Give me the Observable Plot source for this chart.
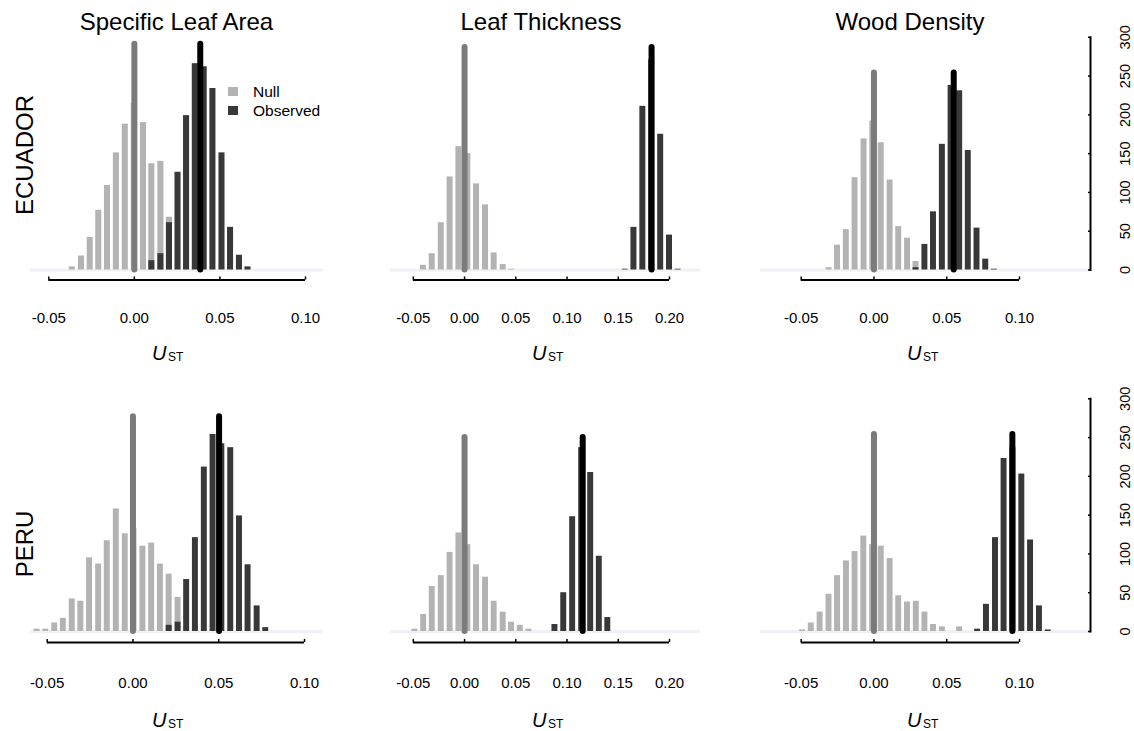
<!DOCTYPE html>
<html>
<head>
<meta charset="utf-8">
<script src="https://cdn.jsdelivr.net/npm/d3@7"></script>
<script src="https://cdn.jsdelivr.net/npm/@observablehq/plot@0.6"></script>
<style>
  html, body { margin: 0; padding: 0; background: #fff; }
  #chart { position: relative; width: 1134px; height: 731px; overflow: hidden; }
  #chart svg { position: absolute; left: 0; top: 0; }
</style>
</head>
<body>
<div id="chart"></div>
<script>
// ---------------- DATA ----------------
const traits = ["Specific Leaf Area", "Leaf Thickness", "Wood Density"];
const regions = ["ECUADOR", "PERU"];
const legendLabels = ["Null", "Observed"];
const xTicksShort = [-0.05, 0.00, 0.05, 0.10];
const xTicksLong = [-0.05, 0.00, 0.05, 0.10, 0.15, 0.20];
const yTicks = [0, 50, 100, 150, 200, 250, 300];

// Ecuador – Specific Leaf Area
const ecSlaNullX = [-0.0363,-0.0309,-0.0258,-0.0208,-0.0157,-0.0105,-0.0053,0.0000,0.0053,0.0102,0.0155,0.0205];
const ecSlaNullN = [4,18,42,77,109,151,188,215,190,137,140,68];
const ecSlaObsX  = [0.0102,0.0155,0.0205,0.0255,0.0305,0.0356,0.0408,0.0459,0.0512,0.0562,0.0614,0.0664];
const ecSlaObsN  = [12,21,61,126,199,266,262,234,151,55,19,4];
const ecSlaMeans = [0.0000, 0.0385];   // null, observed
const ecSlaLineTop = 291;

// Ecuador – Leaf Thickness
const ecLtNullX = [-0.0401,-0.0315,-0.0227,-0.0141,-0.0055,0.0032,0.0117,0.0205,0.0289,0.0377,0.0459];
const ecLtNullN = [6,21,61,120,159,150,111,84,22,7,1];
const ecLtObsX  = [0.1568,0.1653,0.1740,0.1826,0.1914,0.2000,0.2084];
const ecLtObsN  = [1,55,211,271,175,45,1];
const ecLtMeans = [0.0000, 0.1825];
const ecLtLineTop = 287;

// Ecuador – Wood Density
const ecWdNullX = [-0.0309,-0.0250,-0.0190,-0.0130,-0.0068,-0.0008,0.0050,0.0111,0.0170,0.0231,0.0289];
const ecWdNullN = [3,32,52,119,169,192,164,116,56,41,11];
const ecWdObsX  = [0.0289,0.0350,0.0409,0.0470,0.0530,0.0589,0.0648,0.0708,0.0768,0.0827];
const ecWdObsN  = [3,33,75,162,238,231,154,54,14,1];
const ecWdMeans = [0.0000, 0.0548];
const ecWdLineTop = 254;

// Peru – Specific Leaf Area
const peSlaNullX = [-0.0559,-0.0508,-0.0456,-0.0406,-0.0354,-0.0304,-0.0253,-0.0200,-0.0150,-0.0097,-0.0045,0.0006,0.0058,0.0109,0.0160,0.0211,0.0263];
const peSlaNullN = [3,3,11,17,42,39,95,87,117,158,126,133,110,114,87,74,44];
const peSlaObsX  = [0.0211,0.0263,0.0313,0.0364,0.0416,0.0467,0.0518,0.0570,0.0621,0.0671,0.0724,0.0774];
const peSlaObsN  = [8,12,67,121,212,254,242,237,149,86,33,5];
const peSlaMeans = [0.0000, 0.0502];
const peSlaLineTop = 277;

// Peru – Leaf Thickness
const peLtNullX = [-0.0484,-0.0399,-0.0315,-0.0227,-0.0141,-0.0055,0.0032,0.0117,0.0205,0.0289,0.0377,0.0459,0.0544,0.0628];
const peLtNullN = [3,22,58,72,102,127,112,86,70,39,25,12,8,3];
const peLtObsX  = [0.0882,0.0968,0.1055,0.1143,0.1231,0.1315,0.1398];
const peLtObsN  = [9,50,148,237,205,97,18];
const peLtMeans = [0.0000, 0.1153];
const peLtLineTop = 250;

// Peru – Wood Density
const peWdNullX = [-0.0491,-0.0431,-0.0370,-0.0309,-0.0250,-0.0189,-0.0130,-0.0070,-0.0009,0.0050,0.0111,0.0170,0.0230,0.0291,0.0350,0.0409,0.0470,0.0589];
const peWdNullN = [2,11,25,48,72,91,103,123,112,110,94,46,38,39,25,9,6,6];
const peWdObsX  = [0.0712,0.0773,0.0835,0.0894,0.0955,0.1016,0.1076,0.1137,0.1197];
const peWdObsN  = [3,35,121,223,237,203,118,33,2];
const peWdMeans = [0.0000, 0.0951];
const peWdLineTop = 254;

// ---------------- STYLE / LAYOUT ----------------
const W = 1134, H = 731;
const FONT = "'Liberation Sans', Arial, Helvetica, sans-serif";
const nullColor = "#b3b3b3";
const obsColor = "#383838";
const nullLineColor = "#7b7b7b";
const obsLineColor = "#000000";

const rows = [
  { yRange: [269.5, 36.8], axisDy: 10, labelDy: 48.5, ustBaseline: 360 },
  { yRange: [631, 398.3], axisDy: 11, labelDy: 52, ustBaseline: 727 }
];
const cols = [
  { xDomain: [-0.05, 0.10], ticks: xTicksShort, band: [30, 323], titleX: 176.5, ustX: 152 },
  { xDomain: [-0.05, 0.20], ticks: xTicksLong, band: [390, 700], titleX: 541, ustX: 532 },
  { xDomain: [-0.05, 0.10], ticks: xTicksShort, band: [760, 1090], titleX: 910, ustX: 907 }
];
const xRanges = [
  [[48.3, 305], [412.8, 669], [800.7, 1019]],
  [[46.7, 304], [412.8, 669], [800.7, 1019]]
];

const panels = [
  [ {nx: ecSlaNullX, nn: ecSlaNullN, ox: ecSlaObsX, on: ecSlaObsN, means: ecSlaMeans, top: ecSlaLineTop},
    {nx: ecLtNullX,  nn: ecLtNullN,  ox: ecLtObsX,  on: ecLtObsN,  means: ecLtMeans,  top: ecLtLineTop},
    {nx: ecWdNullX,  nn: ecWdNullN,  ox: ecWdObsX,  on: ecWdObsN,  means: ecWdMeans,  top: ecWdLineTop} ],
  [ {nx: peSlaNullX, nn: peSlaNullN, ox: peSlaObsX, on: peSlaObsN, means: peSlaMeans, top: peSlaLineTop},
    {nx: peLtNullX,  nn: peLtNullN,  ox: peLtObsX,  on: peLtObsN,  means: peLtMeans,  top: peLtLineTop},
    {nx: peWdNullX,  nn: peWdNullN,  ox: peWdObsX,  on: peWdObsN,  means: peWdMeans,  top: peWdLineTop} ]
];

const chart = document.getElementById("chart");

function makePanel(r, c) {
  const p = panels[r][c], row = rows[r], col = cols[c];
  const nullData = p.nx.map((x, i) => ({x, n: p.nn[i]}));
  const obsData = p.ox.map((x, i) => ({x, n: p.on[i]}));
  const bin = d3.median(d3.pairs(p.nx, (a, b) => b - a));
  const hw = bin * 0.34;
  const rightAxis = c === 2;
  const marks = [
    Plot.ruleY([0], {stroke: "#f1f1f5", strokeWidth: 3}),
    Plot.rect(nullData, {x1: d => d.x - hw, x2: d => d.x + hw, y1: () => 0, y2: "n", fill: nullColor}),
    Plot.rect(obsData, {x1: d => d.x - hw, x2: d => d.x + hw, y1: () => 0, y2: "n", fill: obsColor}),
    Plot.ruleX([p.means[0]], {y1: () => 0, y2: () => p.top, stroke: nullLineColor, strokeWidth: 6, strokeLinecap: "round"}),
    Plot.ruleX([p.means[1]], {y1: () => 0, y2: () => p.top, stroke: obsLineColor, strokeWidth: 6, strokeLinecap: "round"}),
    // x axis (offset below the baseline)
    Plot.ruleY([0], {x1: () => col.ticks[0], x2: () => col.ticks[col.ticks.length - 1], dy: row.axisDy, stroke: "#000", strokeWidth: 2}),
    Plot.ruleX(col.ticks, {y1: () => 0, y2: () => 4, dy: row.axisDy, stroke: "#000", strokeWidth: 1.5}),
    Plot.text(col.ticks, {x: d => d, y: () => 0, dy: row.labelDy, text: d => d.toFixed(2),
      fontSize: 15, fontFamily: FONT, fill: "#000"})
  ];
  if (rightAxis) {
    marks.push(
      Plot.frame({anchor: "right", stroke: "#000", strokeWidth: 2}),
      Plot.axisY(yTicks, {anchor: "right", tickSize: 3, dx: -3, fill: "none", stroke: "#000", strokeWidth: 1.5}),
      Plot.axisY(yTicks, {anchor: "right", tickSize: 0, tickPadding: 29, tickRotate: -90,
        textAnchor: "middle", lineAnchor: "top", fontSize: 14.5, fontFamily: FONT, fill: "#000", label: null})
    );
  }
  const svg = Plot.plot({
    width: W, height: H,
    marginLeft: col.band[0], marginRight: W - col.band[1],
    marginTop: row.yRange[1], marginBottom: H - row.yRange[0],
    style: {background: "none", overflow: "visible", fontFamily: FONT},
    x: {domain: col.xDomain, range: xRanges[r][c], axis: null},
    y: rightAxis ? {domain: [0, 300], range: row.yRange} : {domain: [0, 300], range: row.yRange, axis: null},
    marks
  });
  chart.appendChild(svg);
}

for (let r = 0; r < 2; r++) for (let c = 0; c < 3; c++) makePanel(r, c);

// ---------------- TEXT OVERLAY ----------------
const ov = d3.select(chart).append("svg")
  .attr("width", W).attr("height", H)
  .style("font-family", FONT)
  .style("overflow", "visible");

traits.forEach((t, c) => {
  ov.append("text").attr("x", cols[c].titleX).attr("y", 30)
    .attr("text-anchor", "middle").attr("font-size", 24).attr("fill", "#000").text(t);
});

const rowLabelY = [155, 544];
regions.forEach((t, r) => {
  ov.append("text").attr("transform", `translate(33,${rowLabelY[r]}) rotate(-90)`)
    .attr("text-anchor", "middle").attr("font-size", 24).attr("fill", "#000").text(t);
});

rows.forEach(row => {
  cols.forEach(col => {
    const t = ov.append("text").attr("x", col.ustX).attr("y", row.ustBaseline).attr("fill", "#000");
    t.append("tspan").attr("font-style", "italic").attr("font-size", 20).text("U");
    t.append("tspan").attr("font-size", 12).attr("dx", 1.5).attr("dy", 1).text("ST");
  });
});

// legend
const legendColors = [nullColor, obsColor];
legendLabels.forEach((lab, i) => {
  const y0 = 87 + i * 19;
  ov.append("rect").attr("x", 228).attr("y", y0).attr("width", 10).attr("height", 9).attr("fill", legendColors[i]);
  ov.append("text").attr("x", 253).attr("y", y0 + 10).attr("font-size", 15.5).attr("fill", "#000").text(lab);
});
</script>
</body>
</html>
